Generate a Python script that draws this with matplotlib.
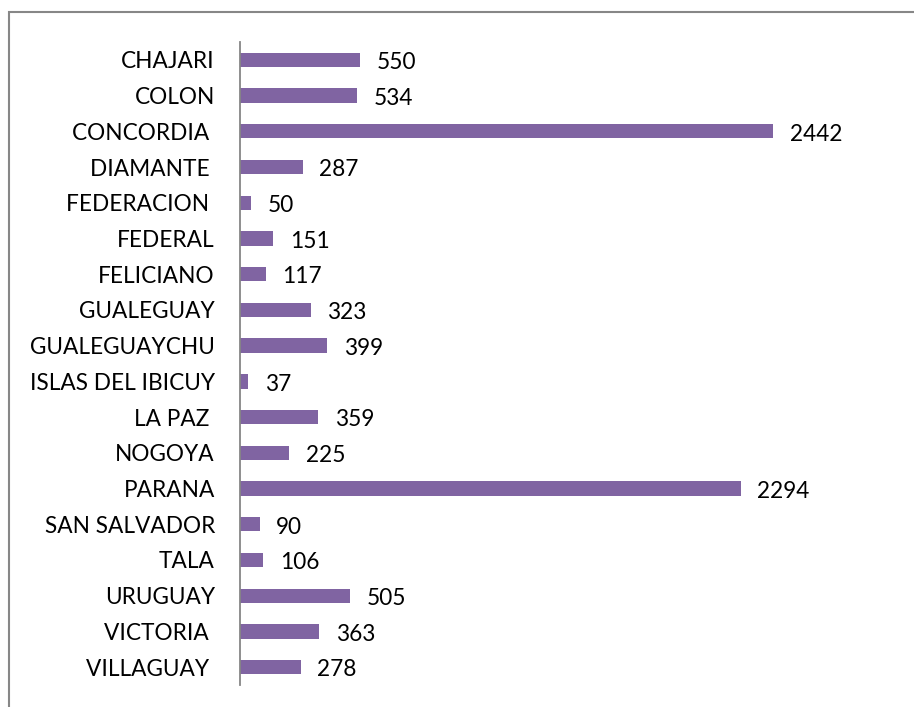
import matplotlib
matplotlib.use("Agg")
import matplotlib.pyplot as plt
from matplotlib.patches import Rectangle

categories = ["CHAJARI", "COLON", "CONCORDIA ", "DIAMANTE ", "FEDERACION ", "FEDERAL",
              "FELICIANO", "GUALEGUAY", "GUALEGUAYCHU", "ISLAS DEL IBICUY", "LA PAZ ",
              "NOGOYA", "PARANA", "SAN SALVADOR", "TALA", "URUGUAY", "VICTORIA ", "VILLAGUAY "]
values = [550, 534, 2442, 287, 50, 151, 117, 323, 399, 37, 359, 225, 2294, 90, 106, 505, 363, 278]

plt.rcParams['font.family'] = ['Lato', 'DejaVu Sans']

W, H = 914, 707
fig = plt.figure(figsize=(W / 100, H / 100), dpi=100)
ax = fig.add_axes([240 / W, 1 - 685 / H, (880 - 240) / W, (685 - 42) / H])

n = len(categories)
ypos = list(range(n))
ax.barh(ypos, values, height=0.4, color="#8064A2")
ax.set_ylim(n - 0.5, -0.5)
ax.set_xlim(0, 2932)
ax.set_yticks(ypos)
ax.set_yticklabels(categories, fontsize=16.3)
ax.tick_params(axis='y', length=0, pad=18)
ax.set_xticks([])
for s in ["top", "right", "bottom"]:
    ax.spines[s].set_visible(False)
ax.spines["left"].set_color("#868686")
ax.spines["left"].set_linewidth(1.3)

for y, v in zip(ypos, values):
    ax.annotate(str(v), (v, y), xytext=(12, -2), textcoords="offset points",
                va="center", ha="left", fontsize=16.3)

fig.patches.append(Rectangle((9 / W, -0.1), 1.2, 0.1 + 1 - 12 / H, transform=fig.transFigure,
                             fill=False, edgecolor="#878787", linewidth=1.5))

fig.savefig("out.png", dpi=100)
